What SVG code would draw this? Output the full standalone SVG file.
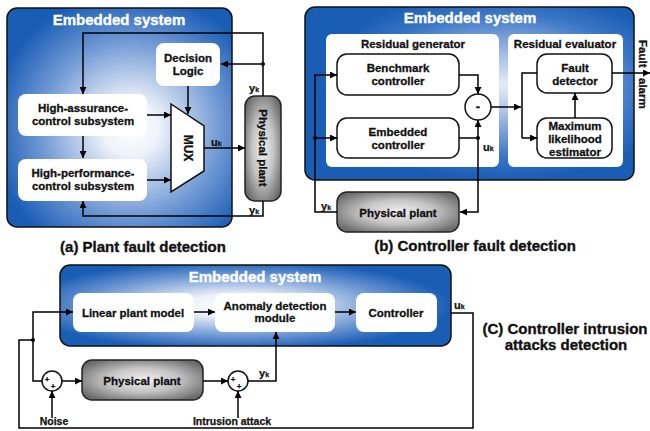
<svg xmlns="http://www.w3.org/2000/svg" width="650" height="431" viewBox="0 0 650 431">
<defs>
<radialGradient id="gA" cx="0.55" cy="0.55" r="0.62">
<stop offset="0" stop-color="#ffffff"/><stop offset="0.2" stop-color="#eef2fa"/><stop offset="0.65" stop-color="#6f98d4"/><stop offset="1" stop-color="#1a5db5"/>
</radialGradient>
<radialGradient id="gB" cx="0.6" cy="0.45" r="0.55">
<stop offset="0" stop-color="#e6ecf7"/><stop offset="0.3" stop-color="#a9c0e6"/><stop offset="0.75" stop-color="#3b76c6"/><stop offset="1" stop-color="#1a5db5"/>
</radialGradient>
<radialGradient id="gC" cx="0.45" cy="0.5" r="0.55">
<stop offset="0" stop-color="#ffffff"/><stop offset="0.25" stop-color="#edf1f9"/><stop offset="0.7" stop-color="#6a95d2"/><stop offset="1" stop-color="#1a5db5"/>
</radialGradient>
<radialGradient id="gP" cx="0.5" cy="0.5" r="0.6">
<stop offset="0" stop-color="#f0f0f0"/><stop offset="0.5" stop-color="#c4c4c4"/><stop offset="1" stop-color="#6c6c6c"/>
</radialGradient>
<marker id="ar" viewBox="0 0 10 10" refX="10" refY="5" markerWidth="8" markerHeight="7" markerUnits="userSpaceOnUse" orient="auto">
<path d="M0,0 L10,5 L0,10 Z" fill="#000"/>
</marker>
<style>
.emb{stroke:#111;stroke-width:1.5}
.wb{fill:#fff}
.sb{fill:#fff;stroke:#111;stroke-width:1.5}
.pl{fill:url(#gP);stroke:#222;stroke-width:1.5}
.t{font-family:"Liberation Sans",Arial,sans-serif;font-weight:bold;fill:#111;stroke:#111;stroke-width:0.3;text-anchor:middle;font-size:11.5px}
.tt{font-family:"Liberation Sans",Arial,sans-serif;font-weight:bold;fill:#fff;stroke:#fff;stroke-width:0.35;text-anchor:middle;font-size:15px}
.cap{font-family:"Liberation Sans",Arial,sans-serif;font-weight:bold;fill:#111;stroke:#111;stroke-width:0.35;text-anchor:middle;font-size:15px}
.lb{font-family:"Liberation Sans",Arial,sans-serif;font-weight:bold;fill:#111;stroke:#111;stroke-width:0.25;font-size:11px}
.sm{font-family:"Liberation Sans",Arial,sans-serif;font-weight:bold;fill:#111;stroke:#111;stroke-width:0.25;text-anchor:middle;font-size:10.5px}
.ln{fill:none;stroke:#000;stroke-width:1.5}
.a{marker-end:url(#ar)}
</style>
</defs>

<!-- Panel (a) -->
<g id="a-embedded">
<rect class="emb" x="7" y="8" width="225" height="219" rx="10" fill="url(#gA)"/>
<text class="tt" x="119" y="25">Embedded system</text>
</g>
<g id="a-decision">
<rect class="wb" x="156" y="43" width="64" height="43" rx="8"/>
<text class="t" x="188" y="62">Decision</text>
<text class="t" x="188" y="75">Logic</text>
</g>
<g id="a-high-assurance">
<rect class="wb" x="18" y="94" width="129" height="42" rx="8"/>
<text class="t" x="83" y="112">High-assurance-</text>
<text class="t" x="83" y="125">control subsystem</text>
</g>
<g id="a-high-performance">
<rect class="wb" x="18" y="159" width="129" height="42" rx="8"/>
<text class="t" x="83" y="177">High-performance-</text>
<text class="t" x="83" y="190">control subsystem</text>
</g>
<g id="a-mux">
<polygon points="171,104 204,126 204,171 171,192" fill="#fff" stroke="#111" stroke-width="1.5"/>
<text class="t" transform="translate(184,148) rotate(90)" x="0" y="0" style="font-size:12px">MUX</text>
</g>
<g id="a-plant">
<rect class="pl" x="245" y="96" width="36" height="105" rx="10"/>
<text class="t" transform="translate(259,148) rotate(90)" x="0" y="0">Physical plant</text>
</g>
<g id="a-connectors">
<path class="ln a" d="M263,96 V33 H83 V94"/>
<path class="ln a" d="M263,64 H221"/>
<circle cx="263" cy="64" r="2" fill="#000"/>
<path class="ln a" d="M188,86 V114"/>
<path class="ln a" d="M83,136 V158"/>
<path class="ln a" d="M147,115 H171"/>
<path class="ln a" d="M147,180 H171"/>
<path class="ln a" d="M204,148 H245"/>
<path class="ln a" d="M263,201 V216 H83 V201"/>
<text class="lb" x="249" y="92">y<tspan style="font-size:7px">k</tspan></text>
<text class="lb" x="249" y="214">y<tspan style="font-size:7px">k</tspan></text>
<text class="lb" x="211" y="146">u<tspan style="font-size:7px">k</tspan></text>
</g>
<text class="cap" x="143" y="252">(a) Plant fault detection</text>

<!-- Panel (b) -->
<g id="b-embedded">
<rect class="emb" x="305" y="7" width="329" height="173" rx="10" fill="url(#gB)"/>
<text class="tt" x="470" y="23">Embedded system</text>
</g>
<g id="b-residual-generator">
<rect class="wb" x="326" y="34" width="173" height="133" rx="6"/>
<text class="t" x="413" y="48">Residual generator</text>
</g>
<g id="b-residual-evaluator">
<rect class="wb" x="508" y="34" width="115" height="133" rx="6"/>
<text class="t" x="565" y="48">Residual evaluator</text>
</g>
<g id="b-benchmark">
<rect class="sb" x="337" y="54" width="122" height="41" rx="10"/>
<text class="t" x="398" y="72">Benchmark</text>
<text class="t" x="398" y="85">controller</text>
</g>
<g id="b-embedded-controller">
<rect class="sb" x="337" y="118" width="122" height="40" rx="10"/>
<text class="t" x="398" y="136">Embedded</text>
<text class="t" x="398" y="149">controller</text>
</g>
<g id="b-minus">
<circle cx="478" cy="107" r="13" fill="#fff" stroke="#111" stroke-width="1.5"/>
<text class="t" x="478" y="111" style="font-size:13px">-</text>
</g>
<g id="b-fault-detector">
<rect class="sb" x="537" y="54" width="75" height="39" rx="10"/>
<text class="t" x="575" y="72">Fault</text>
<text class="t" x="575" y="85">detector</text>
</g>
<g id="b-mle">
<rect class="sb" x="537" y="118" width="75" height="40" rx="10"/>
<text class="t" x="575" y="130">Maximum</text>
<text class="t" x="575" y="143">likelihood</text>
<text class="t" x="575" y="156">estimator</text>
</g>
<g id="b-plant">
<rect class="pl" x="337" y="192" width="122" height="40" rx="10"/>
<text class="t" x="398" y="217">Physical plant</text>
</g>
<g id="b-connectors">
<path class="ln a" d="M459,75 H478 V94"/>
<path class="ln a" d="M459,138 H478 V120"/>
<path class="ln a" d="M478,138 V212 H460"/>
<circle cx="478" cy="138" r="2" fill="#000"/>
<path class="ln a" d="M491,107 H521"/>
<path class="ln" d="M537,73 H522 V138"/>
<path class="ln a" d="M522,138 H537"/>
<path class="ln a" d="M575,118 V93"/>
<path class="ln a" d="M612,73 H650"/>
<path class="ln a" d="M337,212 H315 V75 H337"/>
<path class="ln a" d="M315,138 H337"/>
<circle cx="315" cy="138" r="2" fill="#000"/>
<text class="lb" x="321" y="210">y<tspan style="font-size:7px">k</tspan></text>
<text class="lb" x="483" y="151">u<tspan style="font-size:7px">k</tspan></text>
<text class="t" transform="translate(639,40) rotate(90)" x="0" y="0" style="text-anchor:start">Fault</text>
<text class="t" transform="translate(639,78) rotate(90)" x="0" y="0" style="text-anchor:start">alarm</text>
</g>
<text class="cap" x="475" y="251">(b) Controller fault detection</text>

<!-- Panel (c) -->
<g id="c-embedded">
<rect class="emb" x="60" y="265" width="391" height="81" rx="10" fill="url(#gC)"/>
<text class="tt" x="255" y="282">Embedded system</text>
</g>
<g id="c-linear">
<rect class="wb" x="73" y="293" width="121" height="39" rx="8"/>
<text class="t" x="133" y="317">Linear plant model</text>
</g>
<g id="c-anomaly">
<rect class="wb" x="215" y="293" width="120" height="39" rx="8"/>
<text class="t" x="275" y="310">Anomaly detection</text>
<text class="t" x="275" y="322">module</text>
</g>
<g id="c-controller">
<rect class="wb" x="356" y="293" width="81" height="39" rx="8"/>
<text class="t" x="396" y="317">Controller</text>
</g>
<g id="c-sum1">
<circle cx="52" cy="381" r="10" fill="#fff" stroke="#111" stroke-width="1.5"/>
<text class="t" x="47" y="382" style="font-size:8px">+</text>
<text class="t" x="53" y="389" style="font-size:8px">+</text>
</g>
<g id="c-plant">
<rect class="pl" x="82" y="360" width="121" height="40" rx="10"/>
<text class="t" x="142" y="385">Physical plant</text>
</g>
<g id="c-sum2">
<circle cx="238" cy="381" r="10" fill="#fff" stroke="#111" stroke-width="1.5"/>
<text class="t" x="233" y="382" style="font-size:8px">+</text>
<text class="t" x="239" y="389" style="font-size:8px">+</text>
</g>
<g id="c-connectors">
<path class="ln" d="M451,313 H473 V428 H19 V340 H33"/>
<circle cx="33" cy="340" r="2" fill="#000"/>
<path class="ln a" d="M33,340 V312 H73"/>
<path class="ln" d="M33,340 V381 H42"/>
<path class="ln a" d="M62,381 H82"/>
<path class="ln a" d="M52,418 V391"/>
<path class="ln a" d="M203,381 H228"/>
<path class="ln a" d="M238,418 V391"/>
<path class="ln a" d="M248,381 H276 V332"/>
<path class="ln a" d="M194,312 H215"/>
<path class="ln a" d="M335,312 H356"/>
<text class="lb" x="259" y="377">y<tspan style="font-size:7px">k</tspan></text>
<text class="lb" x="454" y="309">u<tspan style="font-size:7px">k</tspan></text>
<text class="sm" x="54" y="425">Noise</text>
<text class="sm" x="232" y="425">Intrusion attack</text>
</g>
<text class="cap" x="565" y="334">(C) Controller intrusion</text>
<text class="cap" x="566" y="350">attacks detection</text>
</svg>
